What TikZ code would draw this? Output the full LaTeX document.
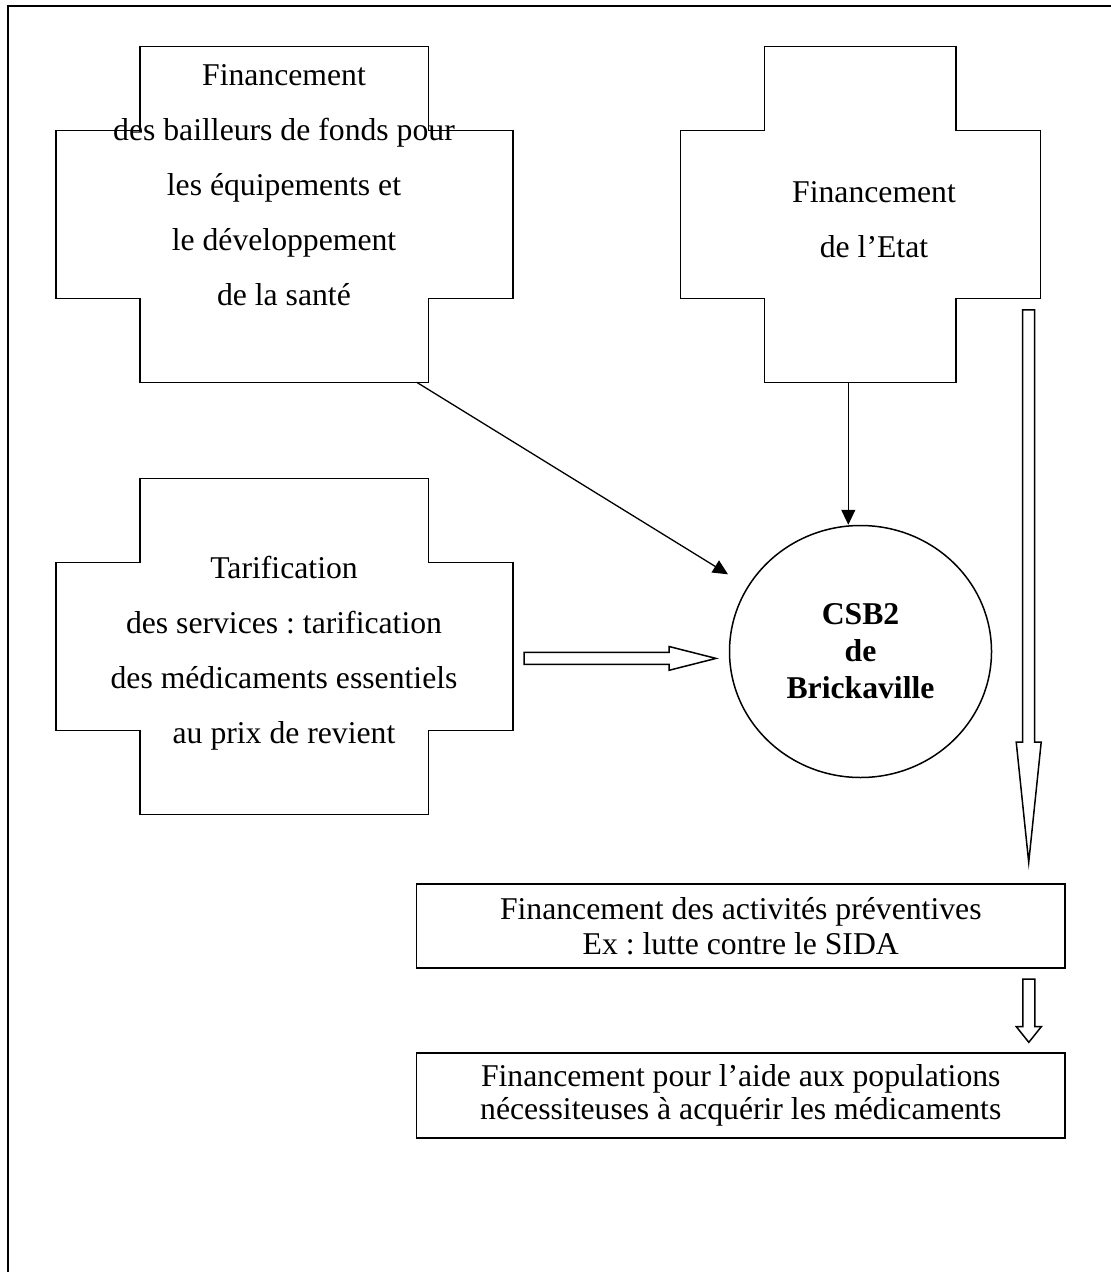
\documentclass[tikz,border=0pt]{standalone}
\usepackage{fontspec}
\setmainfont{Liberation Serif}
\frenchspacing
\usetikzlibrary{arrows.meta,shapes.geometric}
\tikzset{
  shapeline/.style={line width=0.75pt, line join=miter},
  crosstext/.style={align=center, inner sep=0pt, font=\fontsize{15.85}{27.5}\selectfont},
  boxnode/.style={draw, line width=0.75pt, align=center, inner sep=0pt, minimum width=324.25pt},
  hollow/.style={draw, line width=0.75pt, line join=miter, fill=white},
  thinarrow/.style={line width=0.65pt, -{Triangle[length=7.5pt,width=7pt]}},
}
% cross outline: #1 x1, #2 x2, #3 x3, #4 x4, #5 y1, #6 y2, #7 y3, #8 y4
\newcommand{\crossoutline}[8]{%
  \draw[shapeline] (#2,#5) -- (#3,#5) -- (#3,#6) -- (#4,#6) -- (#4,#7) -- (#3,#7) -- (#3,#8) -- (#2,#8) -- (#2,#7) -- (#1,#7) -- (#1,#6) -- (#2,#6) -- cycle;}
\begin{document}
\begin{tikzpicture}[x=0.5pt,y=-0.5pt]
\useasboundingbox (0,0) rectangle (1111,1272);
% frame (only top and left edges visible)
\draw[line width=1pt] (8,1272) -- (8,5.7) -- (1111,5.7);

% crosses
\crossoutline{56}{140}{428.7}{513.2}{46.7}{130.7}{298.3}{382.3}
\crossoutline{680.7}{764.3}{956}{1040.7}{46.7}{130.7}{298.3}{382.7}
\crossoutline{56}{140}{428.7}{513.2}{478.3}{562.7}{730.7}{814.3}

\node[crosstext] (bailleurs) at (284,185) {Financement\\des bailleurs de fonds pour\\les équipements et\\le développement\\de la santé};
\node[crosstext] (etat) at (874,219.5) {Financement\\de l’Etat};
\node[crosstext] (tarif) at (284,653.4) {Tarification\\des services : tarification\\des médicaments essentiels\\au prix de revient};

% centre
\node[ellipse, draw, line width=0.75pt, minimum width=131pt, minimum height=126pt, inner sep=0pt,
      align=center, font=\bfseries\fontsize{15.85}{18.5}\selectfont] (csb) at (860.5,651.5) {CSB2\\de\\Brickaville};

% boxes
\node[boxnode, minimum height=42pt, font=\fontsize{15.85}{17.5}\selectfont] (prev) at (740.75,926)
  {Financement des activités préventives\\Ex : lutte contre le SIDA};
\node[boxnode, minimum height=42.5pt, font=\fontsize{15.85}{16.5}\selectfont] (aide) at (740.75,1095.5)
  {Financement pour l’aide aux populations\\nécessiteuses à acquérir les médicaments};

% connectors
\coordinate (b1) at (416.7,382.3);
\coordinate (t1) at (728,574.3);
\coordinate (b2) at (848.3,382.7);
\draw[thinarrow] (b1) -- (t1);
\draw[thinarrow] (b2) -- (b2 |- csb.north);

% hollow arrows
\draw[hollow] (524,652.4) -- (669,652.4) -- (669,646.5) -- (716,658.4) -- (669,670.3) -- (669,664.4) -- (524,664.4) -- cycle;
\draw[hollow] (1022.7,310) -- (1034.7,310) -- (1034.7,742) -- (1041.2,742) -- (1028.7,862.3) -- (1016.2,742) -- (1022.7,742) -- cycle;
\draw[hollow] (1022.8,979) -- (1034.8,979) -- (1034.8,1026.7) -- (1041.3,1026.7) -- (1028.8,1042.3) -- (1016.3,1026.7) -- (1022.8,1026.7) -- cycle;
\end{tikzpicture}
\end{document}
